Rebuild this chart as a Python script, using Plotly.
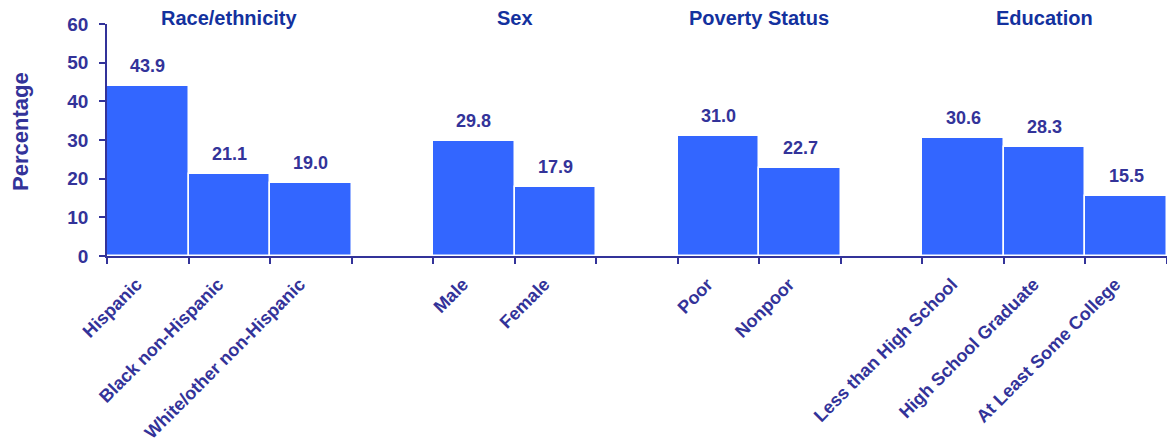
import plotly.graph_objects as go

categories = ["Hispanic", "Black non-Hispanic", "White/other non-Hispanic", " ",
              "Male", "Female", "  ",
              "Poor", "Nonpoor", "   ",
              "Less than High School", "High School Graduate", "At Least Some College"]
values = [43.9, 21.1, 19.0, None,
          29.8, 17.9, None,
          31.0, 22.7, None,
          30.6, 28.3, 15.5]
group_titles = ["Race/ethnicity", "Sex", "Poverty Status", "Education"]
group_centers = [1, 4.5, 7.5, 11]  # category index positions
y_ticks = [0, 10, 20, 30, 40, 50, 60]

NAVY = "#333399"
TITLE_BLUE = "#13319E"
BLUE = "#3366FF"
FONT = "Liberation Sans, Arial, sans-serif"

fig = go.Figure()
fig.add_trace(go.Bar(
    x=categories, y=values,
    marker=dict(color=BLUE, line=dict(color="white", width=1.5)),
    hoverinfo="x+y",
))

annotations = []
for c, v in zip(categories, values):
    if v is None:
        continue
    annotations.append(dict(x=c, y=v, xref="x", yref="y", text=f"<b>{v:.1f}</b>",
                            showarrow=False, yanchor="middle", yshift=20,
                            font=dict(size=18, color=NAVY, family=FONT)))
for t, cx in zip(group_titles, group_centers):
    annotations.append(dict(x=cx, y=1, xref="x", yref="paper", text=f"<b>{t}</b>",
                            showarrow=False, yanchor="middle", yshift=6,
                            font=dict(size=20, color=TITLE_BLUE, family=FONT)))
annotations.append(dict(x=0, y=0.5, xref="paper", yref="paper", text="<b>Percentage</b>",
                        showarrow=False, textangle=-90, xanchor="center", yanchor="middle",
                        xshift=-87, yshift=8, font=dict(size=22, color=NAVY, family=FONT)))

fig.update_layout(
    width=1167, height=447,
    margin=dict(l=107, r=0, t=24, b=191),
    paper_bgcolor="white", plot_bgcolor="white",
    bargap=0, showlegend=False,
    font=dict(family=FONT, color=NAVY),
    annotations=annotations,
)
fig.update_xaxes(
    type="category", categoryorder="array", categoryarray=categories,
    tickson="boundaries", ticks="outside", ticklen=6, tickwidth=1.5, tickcolor=NAVY,
    showline=True, linecolor=NAVY, linewidth=1.5,
    tickangle=-45, tickfont=dict(size=18, color=NAVY, family=FONT),
    ticklabelstandoff=9, ticklabelshift=-11,
    showgrid=False, zeroline=False, automargin=False,
)
fig.update_xaxes(ticktext=[f"<b>{c}</b>" for c in categories], tickvals=categories)
fig.update_yaxes(
    range=[0, 60], tickvals=y_ticks, ticktext=[f"<b>{t}</b>" for t in y_ticks],
    ticks="outside", ticklen=6, tickwidth=1.5, tickcolor=NAVY,
    showline=True, linecolor=NAVY, linewidth=1.5,
    tickfont=dict(size=19, color=NAVY, family=FONT),
    ticklabelstandoff=7,
    showgrid=False, zeroline=False, automargin=False,
)

fig.write_html("out.html", config={"displayModeBar": False},
               post_script="document.body.style.margin='0';")
